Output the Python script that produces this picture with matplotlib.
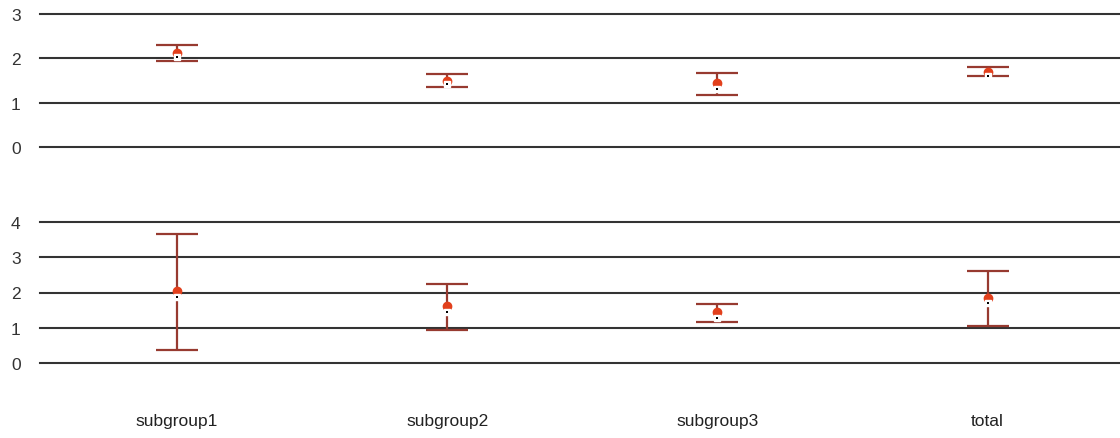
import numpy as np
import matplotlib.pyplot as plt

plt.rcParams['font.family'] = ['Liberation Sans', 'DejaVu Sans']

categories = ['subgroup1', 'subgroup2', 'subgroup3', 'total']

# top panel
top_upper = [2.30, 1.64, 1.68, 1.80]
top_lower = [1.94, 1.36, 1.18, 1.60]
top_mean = [2.13, 1.50, 1.44, 1.69]
top_median = [2.02, 1.41, 1.31, 1.60]

# bottom panel
bot_upper = [3.66, 2.24, 1.67, 2.62]
bot_lower = [0.38, 0.94, 1.16, 1.05]
bot_mean = [2.04, 1.62, 1.45, 1.85]
bot_median = [1.87, 1.45, 1.28, 1.70]

W, H = 1120, 439
fig = plt.figure(figsize=(W / 100, H / 100), dpi=100)

grid_col = '#333333'
err_col = '#973a30'
dot_col = '#e2401c'


def panel(ax, upper, lower, mean, median, ticks):
    x = np.arange(len(categories))
    for t in ticks:
        ax.axhline(t, color=grid_col, lw=1.5, zorder=1)
    up = np.array(upper)
    lo = np.array(lower)
    mid = (up + lo) / 2
    ax.errorbar(x, mid, yerr=[mid - lo, up - mid], fmt='none', ecolor=err_col,
                elinewidth=1.6, capsize=15, capthick=1.6, zorder=2)
    ax.plot(x, mean, 'o', color=dot_col, ms=6, mec=dot_col, zorder=3)
    ax.plot(x, median, 's', color='white', ms=4.5, mec='white', zorder=4)
    ax.plot(x, median, 's', color='black', ms=1.6, mec='black', mew=0, zorder=5)
    ax.set_xlim(-0.507, 3.49)
    ax.set_yticks(ticks)
    for s in ax.spines.values():
        s.set_visible(False)
    ax.tick_params(axis='y', length=0, pad=14, labelsize=12.5, labelcolor='#333333')
    ax.tick_params(axis='x', length=0)


# top axes: 0 at y=147px, 3 at y=14px
ax1 = fig.add_axes([40 / W, 1 - 148 / H, 1 - 40 / W, 133 / H])
ax1.set_ylim(0, 3)
panel(ax1, top_upper, top_lower, top_mean, top_median, [0, 1, 2, 3])
ax1.set_xticks([])

# bottom axes: 0 at y=363px, 4 at y=222px
ppu = (363 - 222) / 4
ax2 = fig.add_axes([40 / W, 1 - 396 / H, 1 - 40 / W, (395 - 222) / H])
ax2.set_ylim(-(395 - 363) / ppu, 4)
panel(ax2, bot_upper, bot_lower, bot_mean, bot_median, [0, 1, 2, 3, 4])
ax2.set_xticks(np.arange(len(categories)))
ax2.set_xticklabels(categories, fontsize=12.5, color='#222222')
ax2.tick_params(axis='x', pad=13)

for ax in (ax1, ax2):
    for c in ax.get_children():
        if hasattr(c, 'set_clip_on'):
            c.set_clip_on(False)

fig.savefig('out.png', dpi=100)
